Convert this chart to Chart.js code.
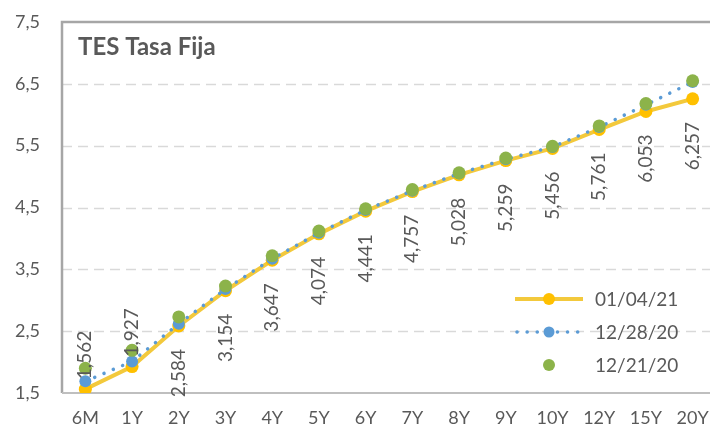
<!DOCTYPE html>
<html>
<head>
<meta charset="utf-8">
<script src="https://cdn.jsdelivr.net/npm/chart.js@4/dist/chart.umd.min.js"></script>
<style>
  html, body { margin: 0; padding: 0; background: #fff; overflow: hidden; }
  #wrap { width: 710px; height: 432px; overflow: hidden; }
</style>
</head>
<body>
<!-- el area de trazado sigue un poco mas alla del borde derecho, como en el original -->
<div id="wrap"><canvas id="myChart" width="716" height="432"></canvas></div>
<script>
// datos de la curva TES tasa fija
const plazos = ['6M', '1Y', '2Y', '3Y', '4Y', '5Y', '6Y', '7Y', '8Y', '9Y', '10Y', '12Y', '15Y', '20Y'];
const serieNombres = ['01/04/21', '12/28/20', '12/21/20'];
const tasas010421 = [1.562, 1.927, 2.584, 3.154, 3.647, 4.074, 4.441, 4.757, 5.028, 5.259, 5.456, 5.761, 6.053, 6.257];
const tasas122820 = [1.69, 2.01, 2.62, 3.18, 3.67, 4.09, 4.46, 4.77, 5.05, 5.28, 5.48, 5.80, 6.16, 6.53];
const tasas122120 = [1.90, 2.19, 2.73, 3.23, 3.72, 4.12, 4.48, 4.79, 5.06, 5.30, 5.49, 5.82, 6.18, 6.55];
const yTicks = [1.5, 2.5, 3.5, 4.5, 5.5, 6.5, 7.5];

const FONT = 'Lato, "Open Sans", sans-serif';
const GRIS = '#595959';
const AMARILLO_LINEA = '#F3C93C';
const AMARILLO = '#FFC000';
const AZUL = '#5B9BD5';
const VERDE = '#8CB34A';

const fmt = (v) => v.toFixed(3).replace('.', ',');

// borde del area, rejilla punteada, titulo, etiquetas rotadas y leyenda
const extras = {
    id: 'extras',
    beforeDatasetsDraw(chart) {
        const { ctx, chartArea: a, scales } = chart;
        ctx.save();
        // rejilla discontinua
        ctx.strokeStyle = '#D9D9D9';
        ctx.lineWidth = 1.5;
        ctx.setLineDash([10, 6]);
        yTicks.slice(1, -1).forEach(v => {
            const y = Math.round(scales.y.getPixelForValue(v)) + 0.5;
            ctx.beginPath();
            ctx.moveTo(a.left, y);
            ctx.lineTo(a.right, y);
            ctx.stroke();
        });
        ctx.setLineDash([]);
        ctx.strokeStyle = '#A6A6A6';
        ctx.lineWidth = 2.5;
        ctx.beginPath();
        ctx.moveTo(a.left, a.bottom);
        ctx.lineTo(a.left, a.top);
        ctx.lineTo(a.right, a.top);
        ctx.stroke();
        ctx.strokeStyle = '#BFBFBF';
        ctx.lineWidth = 2;
        ctx.beginPath();
        ctx.moveTo(a.left, a.bottom);
        ctx.lineTo(a.right, a.bottom);
        ctx.stroke();
        ctx.restore();
    },
    afterDatasetsDraw(chart) {
        const { ctx, chartArea: a } = chart;
        ctx.save();
        // titulo
        ctx.fillStyle = GRIS;
        ctx.font = 'bold 24px ' + FONT;
        ctx.textBaseline = 'middle';
        ctx.textAlign = 'left';
        ctx.fillText('TES Tasa Fija', a.left + 16, a.top + 25);

        // etiquetas de la serie 01/04/21
        const meta = chart.getDatasetMeta(0);
        ctx.font = '19px ' + FONT;
        meta.data.forEach((pt, i) => {
            const txt = fmt(tasas010421[i]);
            const w = ctx.measureText(txt).width;
            let top = pt.y + 23;
            if (top + w > 405) top = pt.y - 10 - w;   // no cabe abajo -> arriba
            ctx.save();
            ctx.translate(pt.x, top);
            ctx.rotate(-Math.PI / 2);
            ctx.textAlign = 'right';
            ctx.textBaseline = 'middle';
            ctx.fillStyle = GRIS;
            ctx.fillText(txt, 0, 0);
            ctx.restore();
        });

        // leyenda
        const lx0 = 515, lx1 = 583, tx = 595;
        const ys = [299, 332, 365];
        ctx.font = '19px ' + FONT;
        ctx.textAlign = 'left';
        ctx.textBaseline = 'middle';
        // 01/04/21
        ctx.strokeStyle = AMARILLO_LINEA;
        ctx.lineWidth = 4;
        ctx.beginPath(); ctx.moveTo(lx0, ys[0]); ctx.lineTo(lx1, ys[0]); ctx.stroke();
        ctx.fillStyle = AMARILLO;
        ctx.beginPath(); ctx.arc((lx0 + lx1) / 2, ys[0], 6, 0, Math.PI * 2); ctx.fill();
        // 12/28/20
        ctx.strokeStyle = AZUL;
        ctx.lineWidth = 3.5;
        ctx.lineCap = 'round';
        ctx.setLineDash([0.1, 10]);
        ctx.beginPath(); ctx.moveTo(lx0 + 2, ys[1]); ctx.lineTo(lx1, ys[1]); ctx.stroke();
        ctx.setLineDash([]);
        ctx.fillStyle = AZUL;
        ctx.beginPath(); ctx.arc((lx0 + lx1) / 2, ys[1], 5.5, 0, Math.PI * 2); ctx.fill();
        // 12/21/20
        ctx.fillStyle = VERDE;
        ctx.beginPath(); ctx.arc((lx0 + lx1) / 2, ys[2], 6, 0, Math.PI * 2); ctx.fill();

        ctx.fillStyle = GRIS;
        serieNombres.forEach((n, i) => ctx.fillText(n, tx, ys[i] + 1));
        ctx.restore();
    }
};

const config = {
    type: 'line',
    data: {
        labels: plazos,
        datasets: [
            {
                label: serieNombres[0],
                data: tasas010421,
                borderColor: AMARILLO_LINEA,
                borderWidth: 4,
                backgroundColor: AMARILLO,
                pointBackgroundColor: AMARILLO,
                pointBorderWidth: 0,
                pointRadius: 6.5,
                tension: 0,
                order: 2
            },
            {
                label: serieNombres[1],
                data: tasas122820,
                borderColor: AZUL,
                borderWidth: 3.5,
                borderDash: [0.1, 10],
                borderCapStyle: 'round',
                pointBackgroundColor: AZUL,
                pointBorderWidth: 0,
                pointRadius: 6,
                tension: 0,
                order: 1
            },
            {
                label: serieNombres[2],
                data: tasas122120,
                showLine: false,
                pointBackgroundColor: VERDE,
                pointBorderWidth: 0,
                pointRadius: 6.5,
                order: 0
            }
        ]
    },
    options: {
        responsive: false,
        animation: false,
        layout: { autoPadding: false, padding: { top: 22, right: 0, left: 0, bottom: 0 } },
        plugins: {
            legend: { display: false },
            tooltip: { enabled: false }
        },
        scales: {
            x: {
                offset: true,
                grid: { display: false, drawTicks: false },
                border: { display: false },
                ticks: {
                    color: GRIS,
                    font: { family: FONT, size: 18 },
                    padding: 14,
                    maxRotation: 0,
                    autoSkip: false
                },
                afterFit: (s) => { s.height = 39; s.paddingLeft = 0; s.paddingRight = 0; }
            },
            y: {
                min: 1.5,
                max: 7.5,
                afterBuildTicks: (s) => { s.ticks = yTicks.map(v => ({ value: v })); },
                grid: { display: false, drawTicks: false },
                border: { display: false },
                ticks: {
                    color: GRIS,
                    font: { family: FONT, size: 18 },
                    padding: 22,
                    callback: (v) => v.toFixed(1).replace('.', ',')
                },
                // el padding de las etiquetas no debe empujar el area hacia abajo
                afterFit: (s) => { s.width = 62; s.paddingTop = 0; s.paddingBottom = 0; }
            }
        }
    },
    plugins: [extras]
};

new Chart(document.querySelector('#myChart').getContext('2d'), config);
</script>
</body>
</html>
